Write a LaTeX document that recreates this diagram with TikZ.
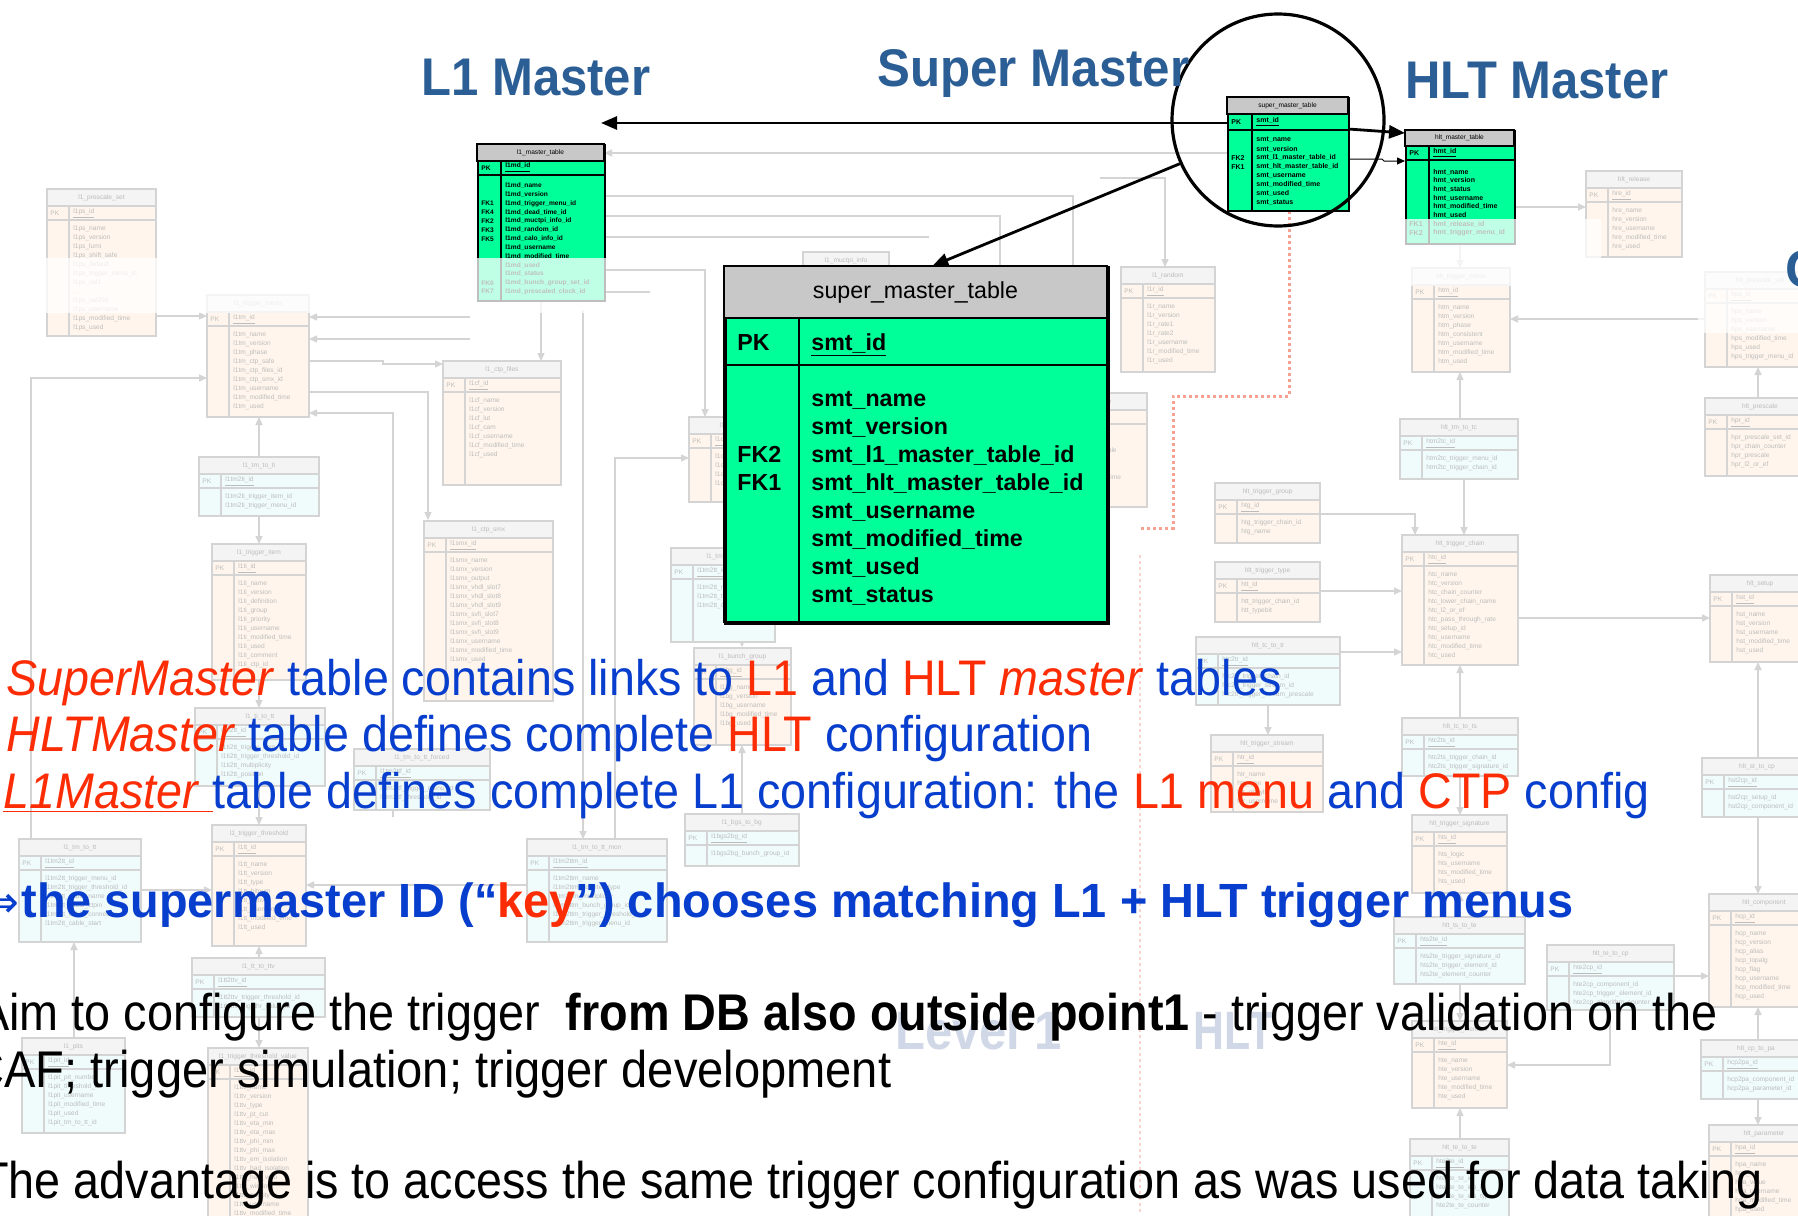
\documentclass[tikz,border=0pt]{standalone}
\usepackage{fontspec}
\setmainfont{Liberation Sans}
\newfontfamily\djv{DejaVu Sans}
\usepackage{graphicx}
\usetikzlibrary{arrows.meta}
\definecolor{tblue}{RGB}{44,94,150}
\definecolor{txtblue}{RGB}{8,62,205}
\definecolor{txtred}{RGB}{252,45,5}
\definecolor{tgreen}{RGB}{0,255,153}
\definecolor{thead}{RGB}{200,200,200}
\definecolor{bgline}{RGB}{212,212,212}
\definecolor{bghead}{RGB}{244,244,244}
\definecolor{bgpeach}{RGB}{255,245,236}
\definecolor{bgcyan}{RGB}{240,252,252}
\definecolor{bgtext}{RGB}{188,188,188}
\definecolor{wmark}{RGB}{208,215,230}
\definecolor{dotred}{RGB}{248,160,145}
\definecolor{dotpale}{RGB}{250,212,206}
\tikzset{
  bgtxt/.style={font=\fontsize{3.3}{4.5}\selectfont, text=bgtext, inner sep=0pt},
  bgbox/.style={draw=bgline, line width=0.6pt},
  bgcon/.style={draw=bgline, line width=0.7pt},
  bgarr/.style={bgcon, -{Triangle[length=4pt,width=3.5pt]}},
  tabline/.style={draw=black, line width=0.8pt},
  smalltxt/.style={font=\fontsize{3.5}{4.3}\selectfont\bfseries, inner sep=0pt, anchor=west},
  l1txt/.style={font=\fontsize{3.3}{4.1}\selectfont\bfseries, inner sep=0pt, anchor=west},
  smallhead/.style={font=\fontsize{3.3}{4}\selectfont, inner sep=0pt},
  bigtxt/.style={font=\fontsize{11.6}{14}\selectfont\bfseries, inner sep=0pt, anchor=base west},
  bigarr/.style={draw=black, line width=1.4pt, -{Triangle[length=8pt,width=6.5pt]}},
  thinarr/.style={draw=black, line width=0.5pt, -{Triangle[length=4pt,width=3.5pt]}},
  title/.style={font=\fontsize{26.5}{30}\selectfont\bfseries, text=tblue, inner sep=0pt, anchor=base west},
  linetxt/.style={inner sep=0pt, anchor=base west},
  dotline/.style={draw=dotred, line width=1.5pt, dash pattern=on 1.5pt off 1.5pt},
  dotpaleline/.style={draw=dotpale, line width=1.2pt, dash pattern=on 1.5pt off 1.5pt},
}
% background table: id, x, y, w, h, fill, title, pk, rows
\newcommand{\bgt}[9]{%
  \path[bgbox, fill=#6] (#2,#3) rectangle ++(#4,#5);
  \path[bgbox, fill=bghead] (#2,#3) rectangle ++(#4,17);
  \draw[bgbox] (#2,#3+31) -- ++(#4,0);
  \draw[bgbox] (#2+22,#3+17) -- (#2+22,#3+#5);
  \node[bgtxt] (#1t) at ({#2+#4/2},{#3+9}) {#7};
  \node[bgtxt, anchor=west] (#1k) at ({#2+3},{#3+24.5}) {PK};
  \node[bgtxt, anchor=west] (#1p) at ({#2+26},{#3+24.5}) {\underline{#8}};
  \node[bgtxt, anchor=north west, align=left] (#1r) at ({#2+26},{#3+36}) {#9};
}
\begin{document}
\begin{tikzpicture}[x=0.5pt,y=-0.5pt]
\useasboundingbox (0,0) rectangle (1798,1215);
\fill[white] (0,0) rectangle (1798,1215);

% ---------------- background connectors ----------------
\draw[bgarr] (156,316) -- (207,316);
\draw[bgarr] (470,317) -- (309,317);
\draw[bgarr] (470,339) -- (309,339);
\draw[bgarr] (309,361) -- (383,361) -- (383,364) -- (443,364);
\draw[bgarr] (309,392) -- (428,392) -- (428,520);
\draw[bgarr] (393,817) -- (393,413) -- (309,413);
\draw[bgarr] (259,457) -- (259,417);
\draw[bgarr] (259,516) -- (259,544);
\draw[bgarr] (31,839) -- (31,378) -- (207,378);
\draw[bgarr] (541,300) -- (541,361);
\draw[bgarr] (583,310) -- (583,839);
\draw[bgarr] (615,839) -- (615,458) -- (689,458);
\draw[bgarr] (259,680) -- (259,708);
\draw[bgarr] (259,786) -- (259,825);
\draw[bgarr] (259,958) -- (259,946);
\draw[bgarr] (259,1017) -- (259,1048);
\draw[bgarr] (74,1038) -- (74,942);
\draw[bgarr] (141,890) -- (212,890);
\draw[bgarr] (527,885) -- (306,885);
\draw[bgarr] (742,622) -- (742,647);
\draw[bgarr] (742,814) -- (742,745);
\draw[bgarr] (1229,153) -- (604,153);
\draw[bgcon] (604,196) -- (1073,196) -- (1073,266);
\draw[bgcon] (604,216) -- (1000,216) -- (1000,266);
\draw[bgcon] (604,237) -- (929,237);
\draw[bgarr] (604,270) -- (705,270) -- (705,417);
\draw[bgcon] (604,292) -- (650,292);
\draw[bgarr] (1100,178) -- (1165,178) -- (1165,267);
\draw[bgarr] (1514,207) -- (1586,207);
\draw[bgarr] (1460,243) -- (1460,268);
\draw[bgarr] (1705,319) -- (1510,319);
\draw[bgarr] (1460,419) -- (1460,372);
\draw[bgarr] (1464,479) -- (1464,535);
\draw[bgarr] (1320,514) -- (1415,514) -- (1415,535);
\draw[bgarr] (1320,591) -- (1402,591);
\draw[bgarr] (1518,618) -- (1710,618);
\draw[bgarr] (1758,398) -- (1758,367);
\draw[bgarr] (1340,652) -- (1402,652);
\draw[bgarr] (1268,705) -- (1268,735);
\draw[bgarr] (1460,718) -- (1460,665);
\draw[bgarr] (1460,776) -- (1460,815);
\draw[bgarr] (1460,917) -- (1460,893);
\draw[bgarr] (1460,984) -- (1460,1021);
\draw[bgarr] (1674,976) -- (1709,976);
\draw[bgarr] (1610,1010) -- (1610,1065) -- (1507,1065);
\draw[bgarr] (1460,1139) -- (1460,1108);
\draw[bgarr] (1758,758) -- (1758,662);
\draw[bgarr] (1758,817) -- (1758,894);
\draw[bgarr] (1758,1040) -- (1758,1007);
\draw[bgarr] (1758,1099) -- (1758,1125);

% ---------------- background tables ----------------
\bgt{l1ps}{47}{189}{109}{147}{bgpeach}{l1\_prescale\_set}{l1ps\_id}{l1ps\_name\\l1ps\_version\\l1ps\_lumi\\l1ps\_shift\_safe\\l1ps\_default\\l1ps\_trigger\_menu\_id\\l1ps\_val1\\...\\l1ps\_val256\\l1ps\_username\\l1ps\_modified\_time\\l1ps\_used}
\bgt{l1tm}{207}{295}{102}{122}{bgpeach}{l1\_trigger\_menu}{l1tm\_id}{l1tm\_name\\l1tm\_version\\l1tm\_phase\\l1tm\_ctp\_safe\\l1tm\_ctp\_files\_id\\l1tm\_ctp\_smx\_id\\l1tm\_username\\l1tm\_modified\_time\\l1tm\_used}
\bgt{l1tmti}{199}{457}{120}{59}{bgcyan}{l1\_tm\_to\_ti}{l1tm2ti\_id}{l1tm2ti\_trigger\_item\_id\\l1tm2ti\_trigger\_menu\_id}
\bgt{l1ti}{212}{544}{94}{136}{bgpeach}{l1\_trigger\_item}{l1ti\_id}{l1ti\_name\\l1ti\_version\\l1ti\_definition\\l1ti\_group\\l1ti\_priority\\l1ti\_username\\l1ti\_modified\_time\\l1ti\_used\\l1ti\_comment\\l1ti\_ctp\_id}
\bgt{l1cf}{443}{361}{118}{124}{bgpeach}{l1\_ctp\_files}{l1cf\_id}{l1cf\_name\\l1cf\_version\\l1cf\_lut\\l1cf\_cam\\l1cf\_username\\l1cf\_modified\_time\\l1cf\_used}
\bgt{l1smx}{424}{521}{129}{180}{bgpeach}{l1\_ctp\_smx}{l1smx\_id}{l1smx\_name\\l1smx\_version\\l1smx\_output\\l1smx\_vhdl\_slot7\\l1smx\_vhdl\_slot8\\l1smx\_vhdl\_slot9\\l1smx\_svfi\_slot7\\l1smx\_svfi\_slot8\\l1smx\_svfi\_slot9\\l1smx\_username\\l1smx\_modified\_time\\l1smx\_used}
\bgt{l1rnd}{1121}{267}{94}{105}{bgpeach}{l1\_random}{l1r\_id}{l1r\_name\\l1r\_version\\l1r\_rate1\\l1r\_rate2\\l1r\_username\\l1r\_modified\_time\\l1r\_used}
\bgt{hidA}{1040}{393}{107}{114}{bgpeach}{l1\_calo\_info}{l1ci\_id}{l1ci\_name\\l1ci\_version\\l1ci\_global\_scale\\l1ci\_jet\_weight\\l1ci\_username\\l1ci\_modified\_time}
\bgt{hidB}{689}{417}{101}{85}{bgpeach}{l1\_dead\_time}{l1dt\_id}{l1dt\_name\\l1dt\_version\\l1dt\_simple\\l1dt\_complex}
\bgt{hidC}{671}{548}{104}{94}{bgcyan}{l1\_tm\_to\_tt}{l1tm2tt\_id}{l1tm2tt\_menu\_id\\l1tm2tt\_threshold\_id\\l1tm2tt\_cable}
\bgt{hidD}{803}{252}{86}{80}{bgpeach}{l1\_muctpi\_info}{l1mi\_id}{l1mi\_name\\l1mi\_version}
\bgt{l1bg}{694}{648}{97}{97}{bgpeach}{l1\_bunch\_group}{l1bg\_id}{l1bg\_name\\l1bg\_version\\l1bg\_username\\l1bg\_modified\_time\\l1bg\_used}
\bgt{l1titt}{195}{708}{130}{78}{bgcyan}{l1\_ti\_to\_tt}{l1ti2tt\_id}{l1ti2tt\_trigger\_item\_id\\l1ti2tt\_trigger\_threshold\_id\\l1ti2tt\_multiplicity\\l1ti2tt\_position}
\bgt{l1ttf}{354}{749}{136}{61}{bgcyan}{l1\_tm\_to\_tt\_forced}{l1tm2ttf\_id}{l1tm2ttf\_trigger\_menu\_id\\l1tm2ttf\_threshold\_id}
\bgt{l1tmtt}{19}{839}{122}{103}{bgcyan}{l1\_tm\_to\_tt}{l1tm2tt\_id}{l1tm2tt\_trigger\_menu\_id\\l1tm2tt\_trigger\_threshold\_id\\l1tm2tt\_cable\_name\\l1tm2tt\_cable\_ctpin\\l1tm2tt\_cable\_connector\\l1tm2tt\_cable\_start}
\bgt{l1thr}{212}{825}{94}{121}{bgpeach}{l1\_trigger\_threshold}{l1tt\_id}{l1tt\_name\\l1tt\_version\\l1tt\_type\\l1tt\_bitnum\\l1tt\_active\\l1tt\_username\\l1tt\_modified\_time\\l1tt\_used}
\bgt{l1ttttv}{192}{958}{133}{59}{bgcyan}{l1\_tt\_to\_ttv}{l1tt2ttv\_id}{l1tt2ttv\_trigger\_threshold\_id\\l1tt2ttv\_trig\_thr\_value\_id}
\bgt{l1ttv}{208}{1048}{100}{200}{bgpeach}{l1\_trigger\_threshold\_value}{l1ttv\_id}{l1ttv\_name\\l1ttv\_version\\l1ttv\_type\\l1ttv\_pt\_cut\\l1ttv\_eta\_min\\l1ttv\_eta\_max\\l1ttv\_phi\_min\\l1ttv\_phi\_max\\l1ttv\_em\_isolation\\l1ttv\_had\_isolation\\l1ttv\_had\_veto\\l1ttv\_window\\l1ttv\_priority\\l1ttv\_username\\l1ttv\_modified\_time}
\bgt{l1pits}{22}{1038}{103}{95}{bgcyan}{l1\_pits}{l1pit\_id}{l1pit\_pit\_number\\l1pit\_threshold\_bit\\l1pit\_username\\l1pit\_modified\_time\\l1pit\_used\\l1pit\_tm\_to\_tt\_id}
\bgt{l1ttm}{527}{839}{140}{103}{bgcyan}{l1\_tm\_to\_tt\_mon}{l1tm2ttm\_id}{l1tm2ttm\_name\\l1tm2ttm\_counter\_type\\l1tm2ttm\_multiplicity\\l1tm2ttm\_bunch\_group\_id\\l1tm2ttm\_trigger\_threshold\_id\\l1tm2ttm\_trigger\_menu\_id}
\bgt{l1bgs}{685}{814}{114}{52}{bgcyan}{l1\_bgs\_to\_bg}{l1bgs2bg\_id}{l1bgs2bg\_bunch\_group\_id}
\bgt{hrel}{1586}{171}{96}{86}{bgpeach}{hlt\_release}{hre\_id}{hre\_name\\hre\_version\\hre\_username\\hre\_modified\_time\\hre\_used}
\bgt{htm}{1412}{268}{98}{104}{bgpeach}{hlt\_trigger\_menu}{htm\_id}{htm\_name\\htm\_version\\htm\_phase\\htm\_consistent\\htm\_username\\htm\_modified\_time\\htm\_used}
\bgt{hps}{1705}{272}{110}{95}{bgpeach}{hlt\_prescale\_set}{hps\_id}{hps\_name\\hps\_version\\hps\_username\\hps\_modified\_time\\hps\_used\\hps\_trigger\_menu\_id}
\bgt{htmtc}{1400}{419}{118}{60}{bgcyan}{hlt\_tm\_to\_tc}{htm2tc\_id}{htm2tc\_trigger\_menu\_id\\htm2tc\_trigger\_chain\_id}
\bgt{hpr}{1705}{398}{110}{78}{bgpeach}{hlt\_prescale}{hpr\_id}{hpr\_prescale\_set\_id\\hpr\_chain\_counter\\hpr\_prescale\\hpr\_l2\_or\_ef}
\bgt{htg}{1215}{483}{105}{60}{bgpeach}{hlt\_trigger\_group}{htg\_id}{htg\_trigger\_chain\_id\\htg\_name}
\bgt{htt}{1215}{562}{105}{60}{bgpeach}{hlt\_trigger\_type}{htt\_id}{htt\_trigger\_chain\_id\\htt\_typebit}
\bgt{htc}{1402}{535}{116}{130}{bgpeach}{hlt\_trigger\_chain}{htc\_id}{htc\_name\\htc\_version\\htc\_chain\_counter\\htc\_lower\_chain\_name\\htc\_l2\_or\_ef\\htc\_pass\_through\_rate\\htc\_setup\_id\\htc\_username\\htc\_modified\_time\\htc\_used}
\bgt{hst}{1710}{575}{100}{87}{bgpeach}{hlt\_setup}{hst\_id}{hst\_name\\hst\_version\\hst\_username\\hst\_modified\_time\\hst\_used}
\bgt{htctr}{1196}{637}{144}{68}{bgcyan}{hlt\_tc\_to\_tr}{htc2tr\_id}{htc2tr\_trigger\_chain\_id\\htc2tr\_trigger\_stream\_id\\htc2tr\_trigger\_stream\_prescale}
\bgt{htr}{1211}{735}{112}{77}{bgpeach}{hlt\_trigger\_stream}{htr\_id}{htr\_name\\htr\_type\\htr\_obeylb\\htr\_username}
\bgt{htcts}{1402}{718}{116}{58}{bgcyan}{hlt\_tc\_to\_ts}{htc2ts\_id}{htc2ts\_trigger\_chain\_id\\htc2ts\_trigger\_signature\_id}
\bgt{hts}{1412}{815}{95}{78}{bgpeach}{hlt\_trigger\_signature}{hts\_id}{hts\_logic\\hts\_username\\hts\_modified\_time\\hts\_used}
\bgt{htste}{1394}{917}{131}{67}{bgcyan}{hlt\_ts\_to\_te}{hts2te\_id}{hts2te\_trigger\_signature\_id\\hts2te\_trigger\_element\_id\\hts2te\_element\_counter}
\bgt{htecp}{1547}{945}{127}{65}{bgcyan}{hlt\_te\_to\_cp}{hte2cp\_id}{hte2cp\_component\_id\\hte2cp\_trigger\_element\_id\\hte2cp\_algorithm\_counter}
\bgt{hte}{1412}{1021}{95}{87}{bgpeach}{hlt\_trigger\_element}{hte\_id}{hte\_name\\hte\_version\\hte\_username\\hte\_modified\_time\\hte\_used}
\bgt{htete}{1410}{1139}{99}{100}{bgcyan}{hlt\_te\_to\_te}{hte2te\_id}{hte2te\_te\_id\\hte2te\_te\_inp\_id\\hte2te\_te\_inp\_type\\hte2te\_te\_counter}
\bgt{hstcp}{1702}{758}{110}{59}{bgcyan}{hlt\_st\_to\_cp}{hst2cp\_id}{hst2cp\_setup\_id\\hst2cp\_component\_id}
\bgt{hcp}{1709}{894}{110}{113}{bgpeach}{hlt\_component}{hcp\_id}{hcp\_name\\hcp\_version\\hcp\_alias\\hcp\_topalg\\hcp\_flag\\hcp\_username\\hcp\_modified\_time\\hcp\_used}
\bgt{hcppa}{1701}{1040}{110}{59}{bgcyan}{hlt\_cp\_to\_pa}{hcp2pa\_id}{hcp2pa\_component\_id\\hcp2pa\_parameter\_id}
\bgt{hpa}{1709}{1125}{110}{120}{bgpeach}{hlt\_parameter}{hpa\_id}{hpa\_name\\hpa\_op\\hpa\_value\\hpa\_username\\hpa\_modified\_time\\hpa\_used}

% ---------------- red dotted link ----------------
\draw[dotline] (1289,211) -- (1289,396) -- (1173,396) -- (1173,528) -- (1140,528);
\draw[dotpaleline] (1140,555) -- (1140,1215);

% ---------------- L1 master table ----------------
\node[tabline, fill=tgreen, minimum width=63.5pt, minimum height=78pt, anchor=north west, inner sep=0pt] (l1m) at (477,144) {};
\path[tabline, fill=thead] (477,144) rectangle (604,161);
\draw[tabline] (477,175) -- (604,175);
\draw[tabline] (501,161) -- (501,300);
\node[smallhead] (l1mh) at (540.5,152.5) {l1\_master\_table};
\node[l1txt] (l1mk) at (481,168) {PK};
\node[l1txt] (l1mp) at (505,168) {\underline{l1md\_id}};
\foreach \t [count=\i from 0] in {l1md\_name, l1md\_version, l1md\_trigger\_menu\_id, l1md\_dead\_time\_id, l1md\_muctpi\_info\_id, l1md\_random\_id, l1md\_calo\_info\_id, l1md\_username, l1md\_modified\_time, l1md\_used, l1md\_status, l1md\_bunch\_group\_set\_id, l1md\_prescaled\_clock\_id}
  \node[l1txt] (l1mr\i) at (505,{186+8.8*\i}) {\t};
\foreach \f/\i in {FK1/2, FK4/3, FK2/4, FK3/5, FK5/6, FK6/11, FK7/12}
  \node[l1txt] (l1mf\i) at (481,{186+8.8*\i}) {\f};

% ---------------- HLT master table ----------------
\node[tabline, fill=tgreen, minimum width=54.5pt, minimum height=56.5pt, anchor=north west, inner sep=0pt] (hltm) at (1405,130) {};
\path[tabline, fill=thead] (1405,130) rectangle (1514,146);
\draw[tabline] (1405,160) -- (1514,160);
\draw[tabline] (1429,146) -- (1429,243);
\node[smallhead] (hltmh) at (1459.5,138) {hlt\_master\_table};
\node[smalltxt] (hltmk) at (1409,153) {PK};
\node[smalltxt] (hltmp) at (1433,153) {\underline{hmt\_id}};
\foreach \t [count=\i from 0] in {hmt\_name, hmt\_version, hmt\_status, hmt\_username, hmt\_modified\_time, hmt\_used, hmt\_release\_id, hmt\_trigger\_menu\_id}
  \node[smalltxt] (hltmr\i) at (1433,{172+8.7*\i}) {\t};
\node[smalltxt] (hltmf1) at (1409,{172+8.7*6}) {FK1};
\node[smalltxt] (hltmf2) at (1409,{172+8.7*7}) {FK2};

% ---------------- small super master table ----------------
\node[tabline, fill=tgreen, minimum width=60.5pt, minimum height=56.5pt, anchor=north west, inner sep=0pt] (smtS) at (1227,97) {};
\path[tabline, fill=thead] (1227,97) rectangle (1348,114);
\draw[tabline] (1227,130) -- (1348,130);
\draw[tabline] (1252,114) -- (1252,210);
\node[smallhead] (smtSh) at (1287.5,105.5) {super\_master\_table};
\node[smalltxt] (smtSk) at (1231,122) {PK};
\node[smalltxt] (smtSp) at (1256,122) {\underline{smt\_id}};
\foreach \t [count=\i from 0] in {smt\_name, smt\_version, smt\_l1\_master\_table\_id, smt\_hlt\_master\_table\_id, smt\_username, smt\_modified\_time, smt\_used, smt\_status}
  \node[smalltxt] (smtSr\i) at (1256,{140+8.9*\i}) {\t};
\node[smalltxt] (smtSf2) at (1231,{140+8.9*2}) {FK2};
\node[smalltxt] (smtSf1) at (1231,{140+8.9*3}) {FK1};

% ---------------- fading overlays ----------------
\fill[white, opacity=0.75] (40,258) rectangle (606,313);
\fill[white, opacity=0.75] (1400,219) rectangle (1601,286);
\fill[white, opacity=0.75] (1698,268) rectangle (1798,333);

% ---------------- big super master table ----------------
\node[draw=black, line width=1.3pt, fill=tgreen, minimum width=191.5pt, minimum height=178pt, anchor=north west, inner sep=0pt] (smtB) at (724,266) {};
\path[fill=thead] (724,266) rectangle (1107,318);
\draw[black, line width=1.3pt] (724,318) -- (1107,318);
\draw[black, line width=1.3pt] (724,365) -- (1107,365);
\draw[black, line width=1.3pt] (799,318) -- (799,622);
\draw[black, line width=1.3pt] (724,266) rectangle (1107,622);
\node[font=\fontsize{11.6}{14}\selectfont, inner sep=0pt, anchor=base] (smtBh) at (915.5,298) {super\_master\_table};
\node[bigtxt] (smtBk) at (737,350) {PK};
\node[bigtxt] (smtBp) at (811,350) {\underline{smt\_id}};
\foreach \t [count=\i from 0] in {smt\_name, smt\_version, smt\_l1\_master\_table\_id, smt\_hlt\_master\_table\_id, smt\_username, smt\_modified\_time, smt\_used, smt\_status}
  \node[bigtxt] (smtBr\i) at (811,{406+28*\i}) {\t};
\node[bigtxt] (smtBf2) at (737,462) {FK2};
\node[bigtxt] (smtBf1) at (737,490) {FK1};

% ---------------- main arrows ----------------
\coordinate (smtpkL) at (1227,123);
\coordinate (l1tip) at (601,123);
\coordinate (smtpkR) at (1348,129);
\coordinate (smtfkR) at (1348,159);
\coordinate (fkbend) at (1382,159);
\coordinate (fkbend2) at (1384,161);
\coordinate (hltfk) at (1405,161);
\draw[bigarr] (smtpkL) -- (l1tip);
\draw[bigarr] (smtpkR) -- ([yshift=-1.5pt]hltm.north west);
\draw[thinarr] (smtfkR) -- (fkbend) -- (fkbend2) -- (hltfk);
\node[draw=black, line width=1.6pt, circle, minimum size=106pt, inner sep=0pt] (circ) at (1278,120) {};
\draw[bigarr] (circ.204) -- ([xshift=7.75pt]smtB.north);

% ---------------- titles ----------------
\node[title] (tl1) at (421,95) {\resizebox{114.5pt}{\height}{L1 Master}};
\node[title] (tsm) at (877,86) {\resizebox{156pt}{\height}{Super Master}};
\node[title] (thlt) at (1405,98) {\resizebox{131.5pt}{\height}{HLT Master}};
\node[title] (tc) at (1785,287) {C};

% ---------------- watermark ----------------
\node[linetxt, font=\fontsize{27}{30}\selectfont\bfseries, text=wmark] (wm1) at (895,1049) {\resizebox{83pt}{\height}{Level 1}};
\node[linetxt, font=\fontsize{27}{30}\selectfont\bfseries, text=wmark] (wm2) at (1193,1049) {\resizebox{40pt}{\height}{HLT}};

% ---------------- text lines ----------------
\node[linetxt] (ln1) at (6,695) {\resizebox{637.5pt}{\height}{\fontsize{25}{30}\selectfont\textcolor{txtred}{\textit{SuperMaster}} \textcolor{txtblue}{table contains links to} \textcolor{txtred}{L1} \textcolor{txtblue}{and} \textcolor{txtred}{HLT \textit{master}} \textcolor{txtblue}{tables}}};
\node[linetxt] (ln2) at (6,751) {\resizebox{543pt}{\height}{\fontsize{25}{30}\selectfont\textcolor{txtred}{\textit{HLTMaster}} \textcolor{txtblue}{table defines complete} \textcolor{txtred}{HLT} \textcolor{txtblue}{configuration}}};
\node[linetxt] (ln3) at (3,808) {\resizebox{823pt}{\height}{\fontsize{25}{30}\selectfont\textcolor{txtred}{\underline{\textit{L1Master}\ }}\textcolor{txtblue}{table defines complete L1 configuration: the} \textcolor{txtred}{L1 menu} \textcolor{txtblue}{and} \textcolor{txtred}{CTP} \textcolor{txtblue}{config}}};
\node[inner sep=0pt, anchor=base east, text=txtblue, font=\djv\fontsize{22}{26}\selectfont] (ln4a) at (20,917) {⇒};
\node[linetxt] (ln4) at (21,917) {\resizebox{776pt}{\height}{\fontsize{24}{28}\selectfont\bfseries\textcolor{txtblue}{the supermaster ID (“}\textcolor{txtred}{key}\textcolor{txtblue}{”) chooses matching L1 + HLT trigger menus}}};
\node[linetxt] (ln5) at (-22,1030) {\resizebox{869.5pt}{\height}{\fontsize{25.8}{30}\selectfont Aim to configure the trigger\ \ \textbf{from DB also outside point1} - trigger validation on the}};
\node[linetxt] (ln6) at (-30,1087) {\resizebox{460.5pt}{\height}{\fontsize{25.8}{30}\selectfont CAF; trigger simulation; trigger development}};
\node[linetxt] (ln7) at (-20,1198) {\resizebox{891pt}{\height}{\fontsize{25.8}{30}\selectfont The advantage is to access the same trigger configuration as was used for data taking}};
\end{tikzpicture}
\end{document}
